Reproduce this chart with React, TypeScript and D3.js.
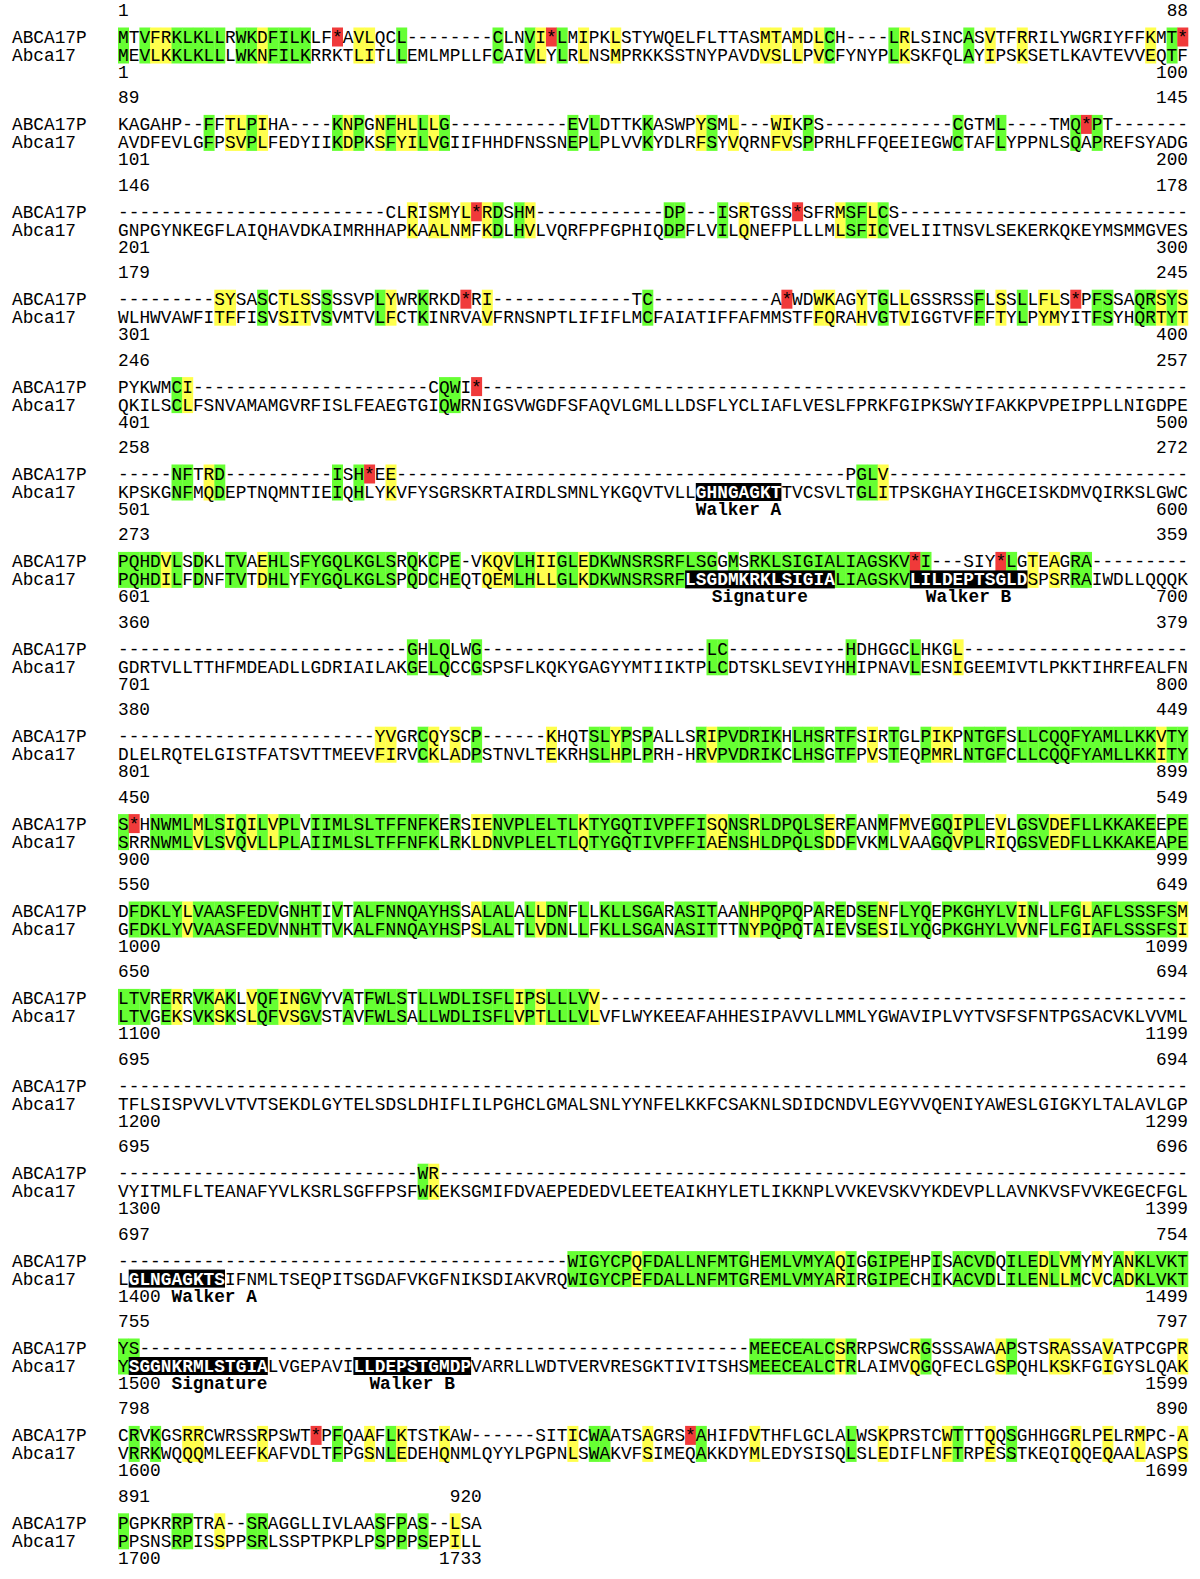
import React from 'react';
import * as d3 from 'd3';

// ---------- DATA ----------
const seqNames: string[] = ['ABCA17P', 'Abca17'];

const topSeqs: string[] = [
  'MTVFRKLKLLRWKDFILKLF*AVLQCL--------CLNVI*LMIPKLSTYWQELFLTTASMTAMDLCH----LRLSINCASVTFRRILYWGRIYFFKMT*',
  'KAGAHP--FFTLPIHA----KNPGNFHLLLG-----------EVLDTTKKASWPYSML---WIKPS------------CGTML----TMQ*PT-------',
  '-------------------------' + 'CLRISMYL*RDSHM' + '------------' + 'DP' + '---' + 'ISRTGSS*SFRMSFLCS' + '---------------------------',
  '---------' + 'SYSASCTLSSSSSVPLYWRKRKD*RI' + '-------------' + 'TC' + '-----------' + 'A*WDWKAGYTGLLGSSRSSFLSSLLFLS*PFSSAQRSYS',
  'PYKWMCI' + '----------------------' + 'CQWI*' + '------------------------------------------------------------------',
  '-----NFTRD' + '----------' + 'ISH*EE' + '------------------------------------------' + 'PGLV' + '----------------------------',
  'PQHDVLSDKLTVAEHLSFYGQLKGLSRQKCPE-VKQVLHIIGLEDKWNSRSRFLSGGMSRKLSIGIALIAGSKV*I---SIY*LGTEAGRA---------',
  '---------------------------' + 'GHLQLWG' + '---------------------' + 'LC' + '-----------' + 'HDHGGCLHKGL' + '---------------------',
  '------------------------' + 'YVGRCQYSCP' + '------' + 'KHQTSLYPSPALLSRIPVDRIKHLHSRTFSIRTGLPIKPNTGFSLLCQQFYAMLLKKVTY',
  'S*HNWMLMLSIQILVPLVIIMLSLTFFNFKERSIENVPLELTLKTYGQTIVPFFISQNSRLDPQLSERFANMFMVEGQIPLEVLGSVDEFLLKKAKEEPE',
  'DFDKLYLVAASFEDVGNHTIVTALFNNQAYHSSALALALLDNFLLKLLSGARASITAANHPQPQPAREDSENFLYQEPKGHYLVINLLFGLAFLSSSFSM',
  'LTVRERRVKAKLVQFINGVYVATFWLSTLLWDLISFLIPSLLLVV' + '-------------------------------------------------------',
  '----------------------------------------------------------------------------------------------------',
  '----------------------------' + 'WR' + '----------------------------------------------------------------------',
  '------------------------------------------' + 'WIGYCPQFDALLNFMTGHEMLVMYAQIGGIPEHPISACVDQILEDLVMYMYANKLVKT',
  'YS' + '---------------------------------------------------------' + 'MEECEALCSRRPSWCRGSSSAWAAPSTSRASSAVATPCGPR',
  'CRVKGSRRCWRSSRPSWT*PFQAAFLKTSTKAW------SITICWAATSAGRS*AHIFDVTHFLGCLALWSKPRSTCWTTTQQSGHHGGRLPELRMPC-A',
  'PGPKRRPTRA--SRAGGLLIVLAASFPAS--LSA',
];

const bottomSeqs: string[] = [
  'MEVLKKLKLLLWKNFILKRRKTLITLLEMLMPLLFCAIVLYLRLNSMPRKKSSTNYPAVDVSLLPVCFYNYPLKSKFQLAYIPSKSETLKAVTEVVEQTF',
  'AVDFEVLGFPSVPLFEDYIIKDPKSFYILVGIIFHHDFNSSNEPLPLVVKYDLRFSYVQRNFVSPPRHLFFQEEIEGWCTAFLYPPNLSQAPREFSYADG',
  'GNPGYNKEGFLAIQHAVDKAIMRHHAPKAALNMFKDLHVLVQRFPFGPHIQDPFLVILQNEFPLLLMLSFICVELIITNSVLSEKERKQKEYMSMMGVES',
  'WLHWVAWFITFFISVSITVSVMTVLFCTKINRVAVFRNSNPTLIFIFLMCFAIATIFFAFMMSTFFQRAHVGTVIGGTVFFFTYLPYMYITFSYHQRTYT',
  'QKILSCLFSNVAMAMGVRFISLFEAEGTGIQWRNIGSVWGDFSFAQVLGMLLLDSFLYCLIAFLVESLFPRKFGIPKSWYIFAKKPVPEIPPLLNIGDPE',
  'KPSKGNFMQDEPTNQMNTIEIQHLYKVFYSGRSKRTAIRDLSMNLYKGQVTVLLGHNGAGKTTVCSVLTGLITPSKGHAYIHGCEISKDMVQIRKSLGWC',
  'PQHDILFDNFTVTDHLYFYGQLKGLSPQDCHEQTQEMLHLLGLKDKWNSRSRFLSGDMKRKLSIGIALIAGSKVLILDEPTSGLDSPSRRAIWDLLQQQK',
  'GDRTVLLTTHFMDEADLLGDRIAILAKGELQCCGSPSFLKQKYGAGYYMTIIKTPLCDTSKLSEVIYHHIPNAVLESNIGEEMIVTLPKKTIHRFEALFN',
  'DLELRQTELGISTFATSVTTMEEVFIRVCKLADPSTNVLTEKRHSLHPLPRH-HRVPVDRIKCLHSGTFPVSTEQPMRLNTGFCLLCQQFYAMLLKKITY',
  'SRRNWMLVLSVQVLLPLAIIMLSLTFFNFKLRKLDNVPLELTLQTYGQTIVPFFIAENSHLDPQLSDDFVKMLVAAGQVPLRIQGSVEDFLLKKAKEAPE',
  'GFDKLYVVAASFEDVNNHTTVKALFNNQAYHSPSLALTLVDNLLFKLLSGANASITTTNYPQPQTAIEVSESILYQGPKGHYLVVNFLFGIAFLSSSFSI',
  'LTVGEKSVKSKSLQFVSGVSTAVFWLSALLWDLISFLVPTLLLVLVFLWYKEEAFAHHESIPAVVLLMMLYGWAVIPLVYTVSFSFNTPGSACVKLVVML',
  'TFLSISPVVLVTVTSEKDLGYTELSDSLDHIFLILPGHCLGMALSNLYYNFELKKFCSAKNLSDIDCNDVLEGYVVQENIYAWESLGIGKYLTALAVLGP',
  'VYITMLFLTEANAFYVLKSRLSGFFPSFWKEKSGMIFDVAEPEDEDVLEETEAIKHYLETLIKKNPLVVKEVSKVYKDEVPLLAVNKVSFVVKEGECFGL',
  'LGLNGAGKTSIFNMLTSEQPITSGDAFVKGFNIKSDIAKVRQWIGYCPEFDALLNFMTGREMLVMYARIRGIPECHIKACVDLILENLLMCVCADKLVKT',
  'YSGGNKRMLSTGIALVGEPAVILLDEPSTGMDPVARRLLWDTVERVRESGKTIVITSHSMEECEALCTRLAIMVQGQFECLGSPQHLKSKFGIGYSLQAK',
  'VRRKWQQQMLEEFKAFVDLTFPGSNLEDEHQNMLQYYLPGPNLSWAKVFSIMEQAKKDYMLEDYSISQLSLEDIFLNFTRPESSTKEQIQQEQAALASPS',
  'PPSNSRPISSPPSRLSSPTPKPLPSPPPSEPILL',
];

const topStart: number[] = [1, 89, 146, 179, 246, 258, 273, 360, 380, 450, 550, 650, 695, 695, 697, 755, 798, 891];
const topEnd: number[] = [88, 145, 178, 245, 257, 272, 359, 379, 449, 549, 649, 694, 694, 696, 754, 797, 890, 920];
const bottomStart: number[] = [1, 101, 201, 301, 401, 501, 601, 701, 801, 900, 1000, 1100, 1200, 1300, 1400, 1500, 1600, 1700];
const bottomEnd: number[] = [100, 200, 300, 400, 500, 600, 700, 800, 899, 999, 1099, 1199, 1299, 1399, 1499, 1599, 1699, 1733];

// columns (1-based) shaded as similar residues
const similarColumns: number[][] = [
  [4, 5, 14, 23, 24, 40, 44, 47, 61, 62, 64, 66, 74, 82, 85, 97],
  [11, 12, 14, 22, 25, 27, 28, 30, 55, 58, 62, 63],
  [28, 30, 31, 33, 35, 39, 59, 68, 71],
  [10, 11, 16, 17, 18, 26, 35, 66, 67, 70, 74, 83, 87, 88, 98, 100],
  [7],
  [9, 26, 72],
  [5, 14, 35, 36, 37, 40, 41, 44, 86, 88],
  [79],
  [25, 26, 30, 32, 41, 47, 56, 71, 77, 78, 98],
  [8, 11, 13, 15, 34, 35, 44, 56, 57, 60, 67, 74, 79, 83, 88, 89],
  [7, 34, 40, 60, 72, 85, 91, 100],
  [6, 10, 13, 16, 17, 38, 40, 45],
  [],
  [30],
  [49, 68, 87, 89, 92, 95],
  [68, 75, 83, 88, 89, 93, 100],
  [7, 8, 14, 24, 27, 31, 43, 50, 60, 72, 78, 82, 90, 93, 96, 100],
  [10, 32],
];

// conserved motifs in the Abca17 row (block index, first column, last column)
const motifBlocks: number[] = [5, 6, 6, 14, 15, 15];
const motifFrom: number[] = [55, 54, 75, 2, 2, 23];
const motifTo: number[] = [62, 67, 85, 10, 14, 33];
const motifLabels: string[] = ['Walker A', 'Signature', 'Walker B', 'Walker A', 'Signature', 'Walker B'];

// ---------- LAYOUT / STYLE ----------
const WIDTH = 1200;
const HEIGHT = 1579;
const X0 = 118;
const CW = 10.7;
const PITCH = 87.4;
const FONT = "'Liberation Mono', 'Courier New', monospace";
const FS = 17.8;
const GREEN = '#66ff33';
const YELLOW = '#ffff4d';
const RED = '#f03a3a';

export default function App() {
  const x = d3.scaleLinear().domain([1, 101]).range([X0, X0 + 100 * CW]);
  const blockY = d3.scaleLinear().domain([0, 17]).range([10, 10 + 17 * PITCH]);

  const blocks = topSeqs.map((top, b) => {
    const bot = bottomSeqs[b];
    const n = Math.max(top.length, bot.length);
    const y0 = blockY(b);
    const c1 = y0 + 27;
    const c2 = y0 + 45;
    const yl = y0 + 62;
    const sim = new Set(similarColumns[b]);
    const motifs = motifBlocks
      .map((mb, k) => ({ mb, from: motifFrom[k], to: motifTo[k], label: motifLabels[k] }))
      .filter((m) => m.mb === b);
    const inMotif = (i: number) => motifs.some((m) => i >= m.from && i <= m.to);

    const cells: React.ReactNode[] = [];
    for (let i = 1; i <= n; i++) {
      const t = top[i - 1];
      const s = bot[i - 1];
      const xl = x(i);
      if (t === '*') {
        cells.push(<rect key={'r' + i} x={xl} y={c1 - 9.5} width={CW + 0.3} height={19} fill={RED} />);
      } else if (t !== '-' && t === s) {
        const h = inMotif(i) ? 19 : c2 + 8.5 - (c1 - 9.5);
        cells.push(<rect key={'g' + i} x={xl} y={c1 - 9.5} width={CW + 0.3} height={h} fill={GREEN} />);
      } else if (sim.has(i)) {
        const h = inMotif(i) ? 19 : c2 + 8.5 - (c1 - 9.5);
        cells.push(<rect key={'y' + i} x={xl} y={c1 - 9.5} width={CW + 0.3} height={h} fill={YELLOW} />);
      }
    }
    motifs.forEach((m, k) => {
      cells.push(
        <rect key={'m' + k} x={x(m.from)} y={c2 - 9} width={x(m.to + 1) - x(m.from)} height={18} fill="#000" />
      );
    });

    const chars: React.ReactNode[] = [];
    for (let i = 1; i <= n; i++) {
      const cx = x(i) + CW / 2;
      if (i <= top.length)
        chars.push(
          <text key={'t' + i} x={cx} y={c1 + 6} textAnchor="middle">{top[i - 1]}</text>
        );
      if (i <= bot.length) {
        const mot = inMotif(i);
        chars.push(
          <text key={'b' + i} x={cx} y={c2 + 6} textAnchor="middle" fill={mot ? '#fff' : '#000'} fontWeight={mot ? 'bold' : 'normal'}>
            {bot[i - 1]}
          </text>
        );
      }
    }

    const startLabel = String(bottomStart[b]);
    const labels = motifs.map((m, k) => {
      const span = m.to - m.from + 1;
      let col = m.from + (span - m.label.length) / 2;
      if (col < startLabel.length + 2) col = startLabel.length + 2;
      return (
        <text key={'l' + k} x={x(col)} y={yl + 6} fontWeight="bold">{m.label}</text>
      );
    });

    return (
      <g key={b}>
        {cells}
        <text x={x(1)} y={y0 + 6}>{topStart[b]}</text>
        <text x={x(n + 1)} y={y0 + 6} textAnchor="end">{topEnd[b]}</text>
        <text x={12} y={c1 + 6}>{seqNames[0]}</text>
        <text x={12} y={c2 + 6}>{seqNames[1]}</text>
        {chars}
        <text x={x(1)} y={yl + 6}>{bottomStart[b]}</text>
        <text x={x(n + 1)} y={yl + 6} textAnchor="end">{bottomEnd[b]}</text>
        {labels}
      </g>
    );
  });

  const errors = topSeqs
    .map((t, b) => (t.length !== bottomSeqs[b].length ? `block ${b + 1}: ${t.length}/${bottomSeqs[b].length}` : ''))
    .filter((e) => e);

  return (
    <svg
      width={WIDTH}
      height={HEIGHT}
      style={{ position: 'absolute', left: 0, top: 0, background: '#fff' }}
      fontFamily={FONT}
      fontSize={FS}
    >
      <rect width={WIDTH} height={HEIGHT} fill="#fff" />
      {blocks}
      {errors.length > 0 && (
        <text x={600} y={20} fill="red" fontSize={14}>{errors.join(' | ')}</text>
      )}
    </svg>
  );
}
